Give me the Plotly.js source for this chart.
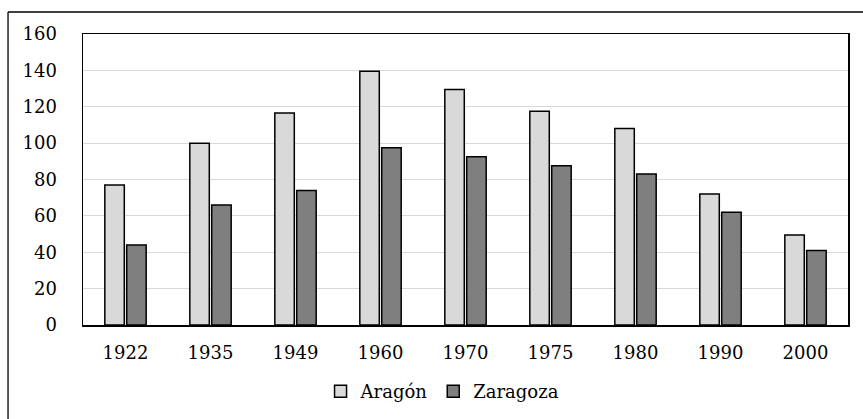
<!DOCTYPE html>
<html>
<head>
<meta charset="utf-8">
<script src="https://cdn.plot.ly/plotly-3.0.1.min.js"></script>
<style>html,body{margin:0;padding:0;background:#fff;}#chart{width:863px;height:419px;}</style>
</head>
<body>
<div id="chart"></div>
<script>
var years = ["1922", "1935", "1949", "1960", "1970", "1975", "1980", "1990", "2000"];
var aragon = [77, 100, 116.5, 139.5, 129.5, 117.5, 108, 72, 49.5];
var zaragoza = [44, 66, 74, 97.5, 92.5, 87.5, 83, 62, 41];
var yTicks = [0, 20, 40, 60, 80, 100, 120, 140, 160];

function mkFont() {
  return {family: "'DejaVu Serif', 'Liberation Serif', serif", size: 18, color: "#000000"};
}

var traces = [
  {type: "bar", name: "Aragón", x: years, y: aragon,
   marker: {color: "#d9d9d9", line: {color: "#000", width: 1.5}}, hoverinfo: "skip"},
  {type: "bar", name: "Zaragoza", x: years, y: zaragoza,
   marker: {color: "#7f7f7f", line: {color: "#000", width: 1.5}}, hoverinfo: "skip"}
];

var layout = {
  width: 863, height: 419,
  margin: {l: 83, r: 15, t: 34, b: 94, autoexpand: false},
  paper_bgcolor: "#fff", plot_bgcolor: "#fff",
  font: mkFont(),
  barmode: "group",
  bargap: 0.485,
  bargroupgap: 0.11,
  showlegend: true,
  legend: {orientation: "h", x: 0.47, xanchor: "center", y: -0.165, yanchor: "top",
           font: mkFont(), traceorder: "normal", itemwidth: 30},
  xaxis: {type: "category", automargin: false, showline: true, linecolor: "#000", linewidth: 1.5, mirror: true,
          ticks: "", showgrid: false, tickfont: mkFont(), ticklabelstandoff: 11},
  yaxis: {range: [0, 160], automargin: false, tickvals: yTicks, showline: true, linecolor: "#000", linewidth: 1.5,
          mirror: true, gridcolor: "#d9d9d9", gridwidth: 1.2, zeroline: false, ticks: "",
          tickfont: mkFont(), ticklabelstandoff: 21},
  shapes: [
    {type: "line", xref: "paper", yref: "paper", x0: -0.098, x1: -0.098, y0: -0.5, y1: 1.0756,
     line: {color: "#000", width: 1.3}},
    {type: "line", xref: "paper", yref: "paper", x0: -0.098, x1: 1.2, y0: 1.0756, y1: 1.0756,
     line: {color: "#000", width: 1.3}}
  ]
};

Plotly.newPlot("chart", traces, layout, {staticPlot: true, displayModeBar: false});
</script>
</body>
</html>
